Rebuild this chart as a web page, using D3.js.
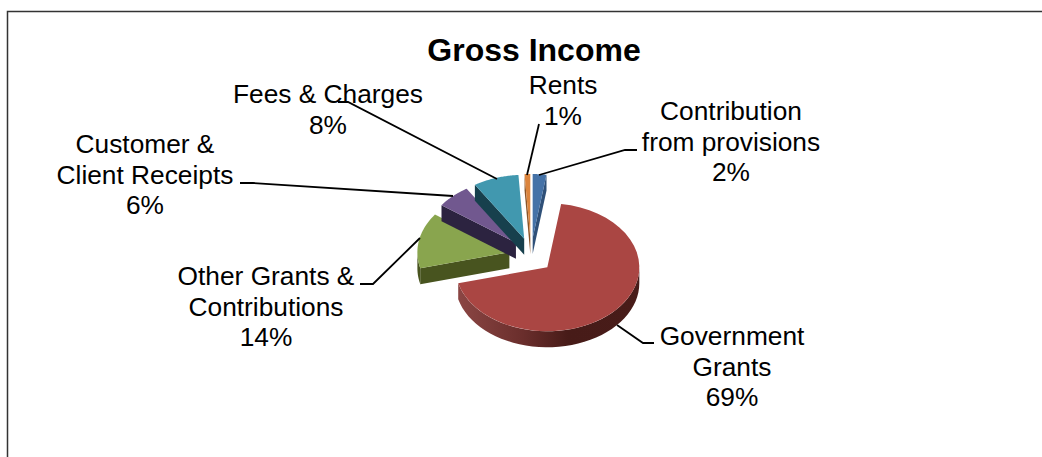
<!DOCTYPE html>
<html>
<head>
<meta charset="utf-8">
<script src="https://cdn.jsdelivr.net/npm/d3@7"></script>
<style>
    html, body { margin: 0; padding: 0; background: #fff; overflow: hidden; }
    text { font-family: "Liberation Sans", Arial, sans-serif; fill: #000; }
</style>
</head>
<body>
<svg id="svg" width="1042" height="457"></svg>
<script>
    //chart data, clockwise from the top of the pie
    const categories = ['Contribution from provisions', 'Government Grants', 'Other Grants & Contributions',
        'Customer & Client Receipts', 'Fees & Charges', 'Rents']
    const shares = [2.4, 68.6, 14, 6, 8, 1]
    const labelLines = [
        ['Contribution', 'from provisions', '2%'],
        ['Government', 'Grants', '69%'],
        ['Other Grants &', 'Contributions', '14%'],
        ['Customer &', 'Client Receipts', '6%'],
        ['Fees & Charges', '8%'],
        ['Rents', '1%']
    ]
    const titleText = 'Gross Income'

    //look of each slice: top, cut face
    const topColors = ['#4572a7', '#aa4643', '#89a54e', '#71588f', '#4198af', '#db843d']
    const faceColors = ['#2f5078', '#6e2c2a', '#48541f', '#2c2340', '#17404d', '#8a5428']

    //label placement (centre x, first baseline y) and leader line
    const labelPos = [[731, 120], [732, 345], [266, 285], [145, 153], [328, 103], [563, 94]]
    const leaders = [
        [[539, 175], [625, 150], [637, 150]],
        [[617, 325], [643, 343], [654, 343]],
        [[420, 238], [373, 284], [360, 284]],
        [[453, 196], [253, 183], [240, 183]],
        [[497, 179], [348, 102], [338, 102]],
        [[527, 175], [539, 124]]
    ]

    let svg = d3.select('#svg')
    const cx = 531, cy = 255.5
    const rx = 92, ry = 64, depth = 16
    const explodeX = 22, explodeY = 17.5

    //frame, open on the right and at the bottom
    svg.append('path')
        .attr('d', 'M7.5,457V11.5H1042')
        .attr('fill', 'none')
        .attr('stroke', '#333')
        .attr('stroke-width', 1.5)

    //gradient on the red outer wall
    let grad = svg.append('defs').append('linearGradient')
        .attr('id', 'redWall')
        .attr('gradientUnits', 'userSpaceOnUse')
        .attr('x1', 460).attr('x2', 640).attr('y1', 0).attr('y2', 0)
    grad.append('stop').attr('offset', 0).attr('stop-color', '#8a4543')
    grad.append('stop').attr('offset', 0.35).attr('stop-color', '#6a2e2c')
    grad.append('stop').attr('offset', 0.6).attr('stop-color', '#471b18')
    grad.append('stop').attr('offset', 1).attr('stop-color', '#481c19')

    let slices = d3.pie().sort(null)(shares)

    //project an angle on the tilted ellipse
    const sx = d3.scaleLinear().domain([-1, 1]).range([-rx, rx])
    const sy = d3.scaleLinear().domain([-1, 1]).range([ry, -ry])
    const outer = (c, a, dy = 0) => [c[0] + sx(Math.sin(a)), c[1] + sy(Math.cos(a)) + dy]
    const line = d3.line()

    const arcPoints = (c, a0, a1, dy = 0) => d3.range(0, 41).map(i => outer(c, a0 + (a1 - a0) * i / 40, dy))

    let pieG = svg.append('g')

    slices.forEach((s, i) => {
        let mid = (s.startAngle + s.endAngle) / 2
        let c = [cx + explodeX * Math.sin(mid), cy - explodeY * Math.cos(mid)]
        let low = [c[0], c[1] + depth]

        //cut faces looking at the viewer
        if (Math.sin(s.startAngle) < 0) {
            pieG.append('path')
                .attr('d', line([c, outer(c, s.startAngle), outer(c, s.startAngle, depth), low]) + 'Z')
                .attr('fill', faceColors[i])
        }
        if (Math.sin(s.endAngle) > 0) {
            pieG.append('path')
                .attr('d', line([c, outer(c, s.endAngle), outer(c, s.endAngle, depth), low]) + 'Z')
                .attr('fill', faceColors[i])
        }

        //outer wall, only the front half shows
        let w0 = Math.max(s.startAngle, Math.PI / 2)
        let w1 = Math.min(s.endAngle, Math.PI * 1.5)
        if (w1 > w0) {
            let pts = arcPoints(c, w0, w1).concat(arcPoints(c, w1, w0, depth))
            pieG.append('path')
                .attr('d', line(pts) + 'Z')
                .attr('fill', i == 1 ? 'url(#redWall)' : faceColors[i])
        }

        //top
        pieG.append('path')
            .attr('d', line([c].concat(arcPoints(c, s.startAngle, s.endAngle))) + 'Z')
            .attr('fill', topColors[i])
    })

    //leader lines
    svg.append('g')
        .selectAll('path')
        .data(leaders)
        .join('path')
        .attr('d', d => line(d))
        .attr('fill', 'none')
        .attr('stroke', '#000')
        .attr('stroke-width', 1.8)

    //title
    svg.append('text')
        .attr('x', 534)
        .attr('y', 61)
        .attr('text-anchor', 'middle')
        .attr('font-size', 32)
        .attr('font-weight', 'bold')
        .text(titleText)

    //labels
    labelLines.forEach((lines, i) => {
        svg.append('text')
            .attr('text-anchor', 'middle')
            .attr('font-size', 26.3)
            .attr('data-name', categories[i])
            .selectAll('tspan')
            .data(lines)
            .join('tspan')
            .attr('x', labelPos[i][0])
            .attr('y', (d, k) => labelPos[i][1] + k * 30.7)
            .text(d => d)
    })
</script>
</body>
</html>
